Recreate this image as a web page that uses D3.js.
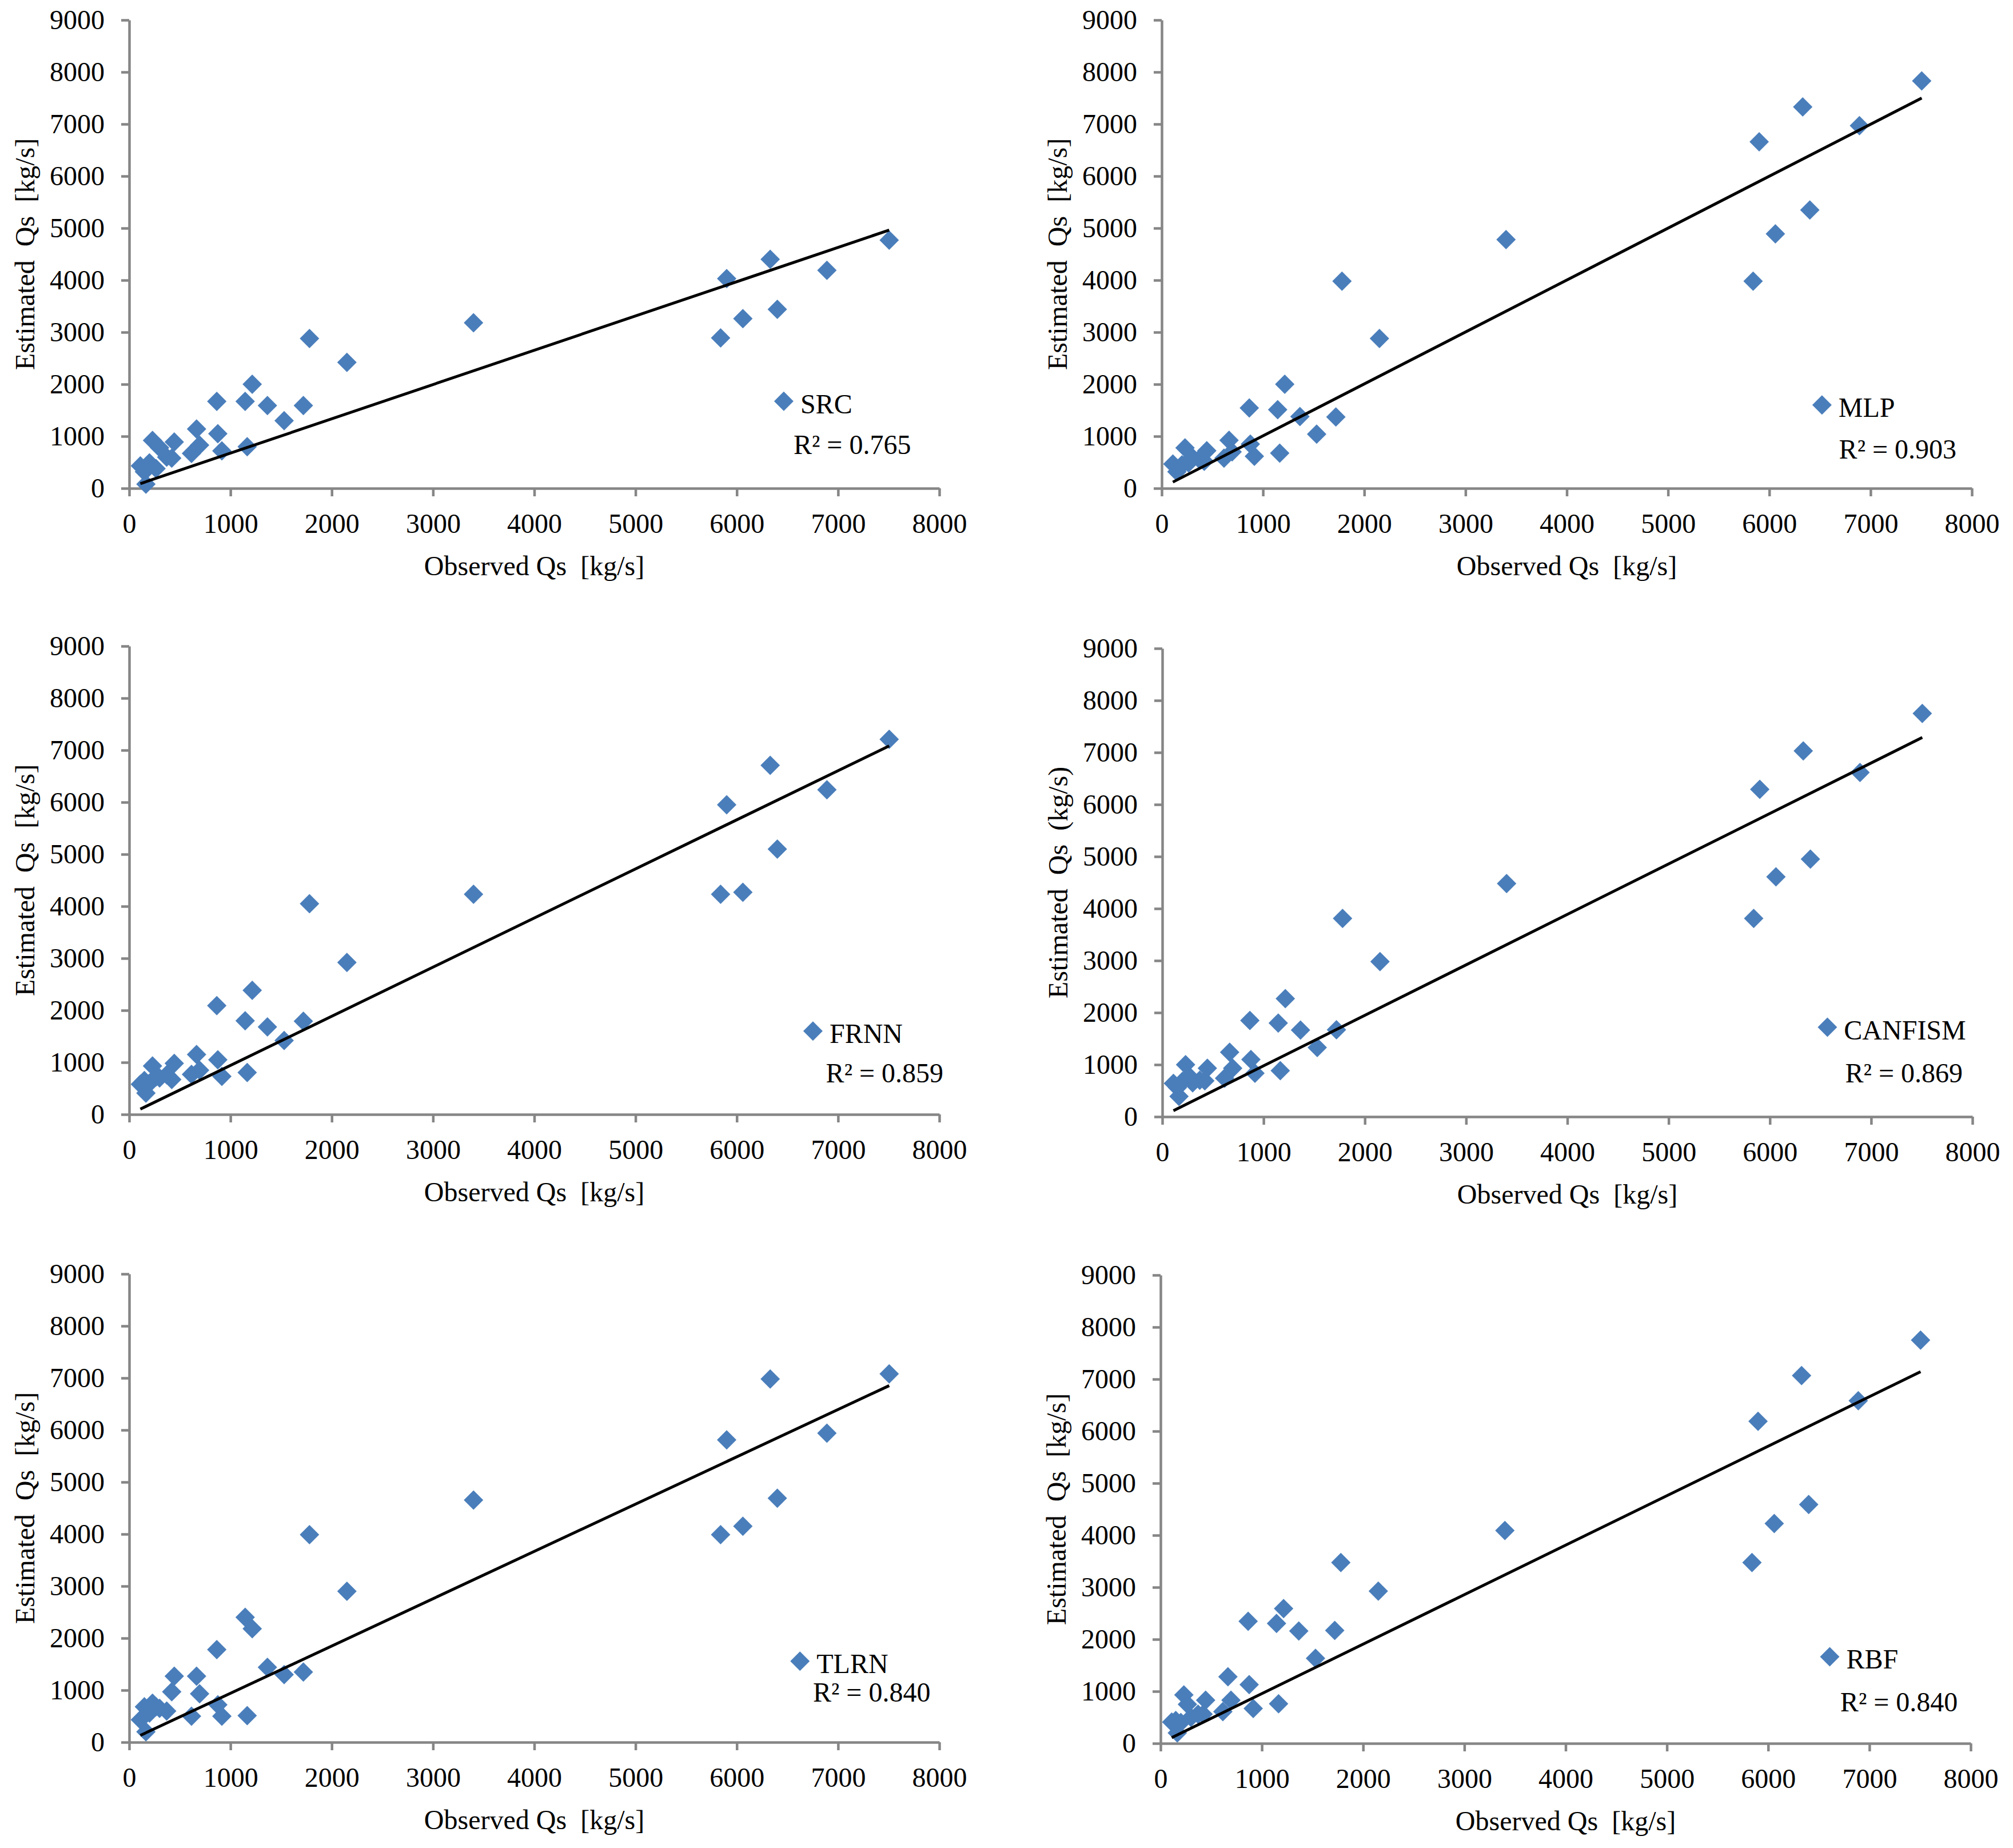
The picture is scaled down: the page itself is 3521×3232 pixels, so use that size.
<!DOCTYPE html>
<html>
<head>
<meta charset="utf-8">
<script src="https://cdn.jsdelivr.net/npm/d3@7/dist/d3.min.js"></script>
<style>
  html, body { margin: 0; padding: 0; background: #ffffff; }
  svg { display: block; }
  text { font-family: "Liberation Serif", "Times New Roman", serif; fill: #000; }
</style>
</head>
<body>
<svg id="chart" width="3521" height="3232"></svg>
<script>
// ---------------- DATA ----------------
const xTicks = [0, 1000, 2000, 3000, 4000, 5000, 6000, 7000, 8000];
const yTicks = [0, 1000, 2000, 3000, 4000, 5000, 6000, 7000, 8000, 9000];

const models = ["SRC", "MLP", "FRNN", "CANFISM", "TLRN", "RBF"];
const r2Labels = ["R\u00B2 = 0.765", "R\u00B2 = 0.903", "R\u00B2 = 0.859", "R\u00B2 = 0.869", "R\u00B2 = 0.840", "R\u00B2 = 0.840"];
const yTitles = ["Estimated  Qs  [kg/s]", "Estimated  Qs  [kg/s]", "Estimated  Qs  [kg/s]",
                 "Estimated  Qs  (kg/s)", "Estimated  Qs  [kg/s]", "Estimated  Qs  [kg/s]"];
const xTitle = "Observed Qs  [kg/s]";

// Observed sediment discharge (shared by all panels)
const observed = [110, 150, 165, 200, 230, 265, 300, 370, 420, 445, 615, 665, 695, 865, 875, 915,
                  1145, 1165, 1215, 1365, 1530, 1720, 1780, 2150, 3400, 5840, 5900, 6060, 6330, 6400, 6890, 7505];

const estSRC     = [430, 320, 80, 490, 920, 380, 780, 600, 580, 890, 670, 1140, 830, 1670, 1050, 720,
                    1670, 800, 2000, 1590, 1300, 1590, 2880, 2420, 3180, 2890, 4030, 3260, 4400, 3440, 4190, 4770];
const estMLP     = [467, 320, 380, 450, 777, 485, 600, 560, 520, 723, 580, 923, 700, 1545, 850, 615,
                    1510, 675, 2000, 1380, 1040, 1370, 3980, 2880, 4780, 3980, 6660, 4890, 7330, 5350, 6970, 7830];
const estFRNN    = [580, 650, 410, 600, 930, 720, 700, 760, 670, 980, 770, 1150, 850, 2090, 1050, 730,
                    1800, 805, 2385, 1680, 1420, 1790, 4050, 2920, 4230, 4230, 5950, 4270, 6710, 5100, 6240, 7210];
const estCANFISM = [640, 560, 390, 680, 1000, 780, 650, 700, 690, 930, 740, 1240, 930, 1850, 1100, 835,
                    1800, 885, 2270, 1665, 1330, 1670, 3810, 2980, 4480, 3810, 6290, 4610, 7030, 4950, 6615, 7750];
const estTLRN    = [430, 680, 200, 560, 750, 680, 650, 600, 970, 1270, 500, 1270, 930, 1780, 720, 500,
                    2400, 510, 2180, 1440, 1300, 1350, 3990, 2900, 4655, 3990, 5810, 4150, 6980, 4690, 5940, 7080];
const estRBF     = [410, 440, 200, 400, 930, 750, 500, 560, 560, 830, 610, 1280, 830, 2345, 1130, 670,
                    2305, 760, 2590, 2160, 1635, 2170, 3475, 2925, 4090, 3475, 6190, 4225, 7070, 4590, 6585, 7750];

// Linear trend lines (slope, intercept)
const trendSlope     = [0.659, 0.998, 0.944, 0.970, 0.909, 0.951];
const trendIntercept = [17, 10, -2, 8, 31, 5];

// ---------------- LAYOUT ----------------
const estimates = [estSRC, estMLP, estFRNN, estCANFISM, estTLRN, estRBF];
const plotW = 1417, plotH = 819;
const panelLayout = [
  { x0: 226,  yBottom: 854,  legX: 0.808, legY: 0.814, r2X: 0.820, r2Y: 0.927 },
  { x0: 2032, yBottom: 854,  legX: 0.815, legY: 0.822, r2X: 0.836, r2Y: 0.937 },
  { x0: 226,  yBottom: 1949, legX: 0.844, legY: 0.822, r2X: 0.860, r2Y: 0.932 },
  { x0: 2033, yBottom: 1953, legX: 0.821, legY: 0.809, r2X: 0.843, r2Y: 0.927 },
  { x0: 226,  yBottom: 3047, legX: 0.828, legY: 0.827, r2X: 0.844, r2Y: 0.913 },
  { x0: 2030, yBottom: 3049, legX: 0.826, legY: 0.815, r2X: 0.839, r2Y: 0.932 }
];

const axisColor = "#868686";
const markerColor = "#4a7ebb";
const fontSize = 48;
const diamond = "M0,-17L17,0L0,17L-17,0Z";

const svg = d3.select("#chart");
svg.append("rect").attr("width", 3521).attr("height", 3232).attr("fill", "#ffffff");

models.forEach((name, i) => {
  const L = panelLayout[i];
  const yTop = L.yBottom - plotH;
  const x = d3.scaleLinear().domain([0, 8000]).range([L.x0, L.x0 + plotW]);
  const y = d3.scaleLinear().domain([0, 9000]).range([L.yBottom, yTop]);
  const g = svg.append("g");

  // X axis
  const xAxis = g.append("g")
    .attr("transform", `translate(0,${L.yBottom})`)
    .call(d3.axisBottom(x).tickValues(xTicks).tickFormat(d3.format("d"))
      .tickSize(14).tickSizeOuter(0).tickPadding(30));
  // Y axis
  const yAxis = g.append("g")
    .attr("transform", `translate(${L.x0},0)`)
    .call(d3.axisLeft(y).tickValues(yTicks).tickFormat(d3.format("d"))
      .tickSize(14).tickSizeOuter(0).tickPadding(29));

  [xAxis, yAxis].forEach(ax => {
    ax.select(".domain").attr("stroke", axisColor).attr("stroke-width", 4.5);
    ax.selectAll(".tick line").attr("stroke", axisColor).attr("stroke-width", 4.5);
    ax.selectAll(".tick text")
      .attr("fill", "#000")
      .style("font-family", '"Liberation Serif", "Times New Roman", serif')
      .style("font-size", fontSize + "px");
  });

  // Axis titles
  g.append("text")
    .attr("x", L.x0 + plotW / 2)
    .attr("y", L.yBottom + 152)
    .attr("text-anchor", "middle")
    .style("font-size", fontSize + "px")
    .style("white-space", "pre")
    .text(xTitle);

  g.append("text")
    .attr("transform", `translate(${L.x0 - 166},${(L.yBottom + yTop) / 2}) rotate(-90)`)
    .attr("text-anchor", "middle")
    .style("font-size", fontSize + "px")
    .style("white-space", "pre")
    .text(yTitles[i]);

  // Points
  const pts = observed.map((o, k) => ({ o: o, e: estimates[i][k] }));
  g.append("g").selectAll("path")
    .data(pts)
    .join("path")
    .attr("d", diamond)
    .attr("transform", d => `translate(${x(d.o)},${y(d.e)})`)
    .attr("fill", markerColor);

  // Trend line from min to max observed
  const xMin = d3.min(observed), xMax = d3.max(observed);
  const trend = [xMin, xMax].map(v => ({ o: v, e: trendSlope[i] * v + trendIntercept[i] }));
  g.append("path")
    .datum(trend)
    .attr("d", d3.line().x(d => x(d.o)).y(d => y(d.e)))
    .attr("stroke", "#000")
    .attr("stroke-width", 5)
    .attr("fill", "none");

  // Legend
  const lx = L.x0 + L.legX * plotW;
  const ly = yTop + L.legY * plotH;
  g.append("path").attr("d", diamond).attr("transform", `translate(${lx},${ly})`).attr("fill", markerColor);
  g.append("text")
    .attr("x", lx + 29).attr("y", ly + 21)
    .style("font-size", fontSize + "px")
    .text(name);
  g.append("text")
    .attr("x", L.x0 + L.r2X * plotW)
    .attr("y", yTop + L.r2Y * plotH)
    .style("font-size", fontSize + "px")
    .text(r2Labels[i]);
});
</script>
</body>
</html>
